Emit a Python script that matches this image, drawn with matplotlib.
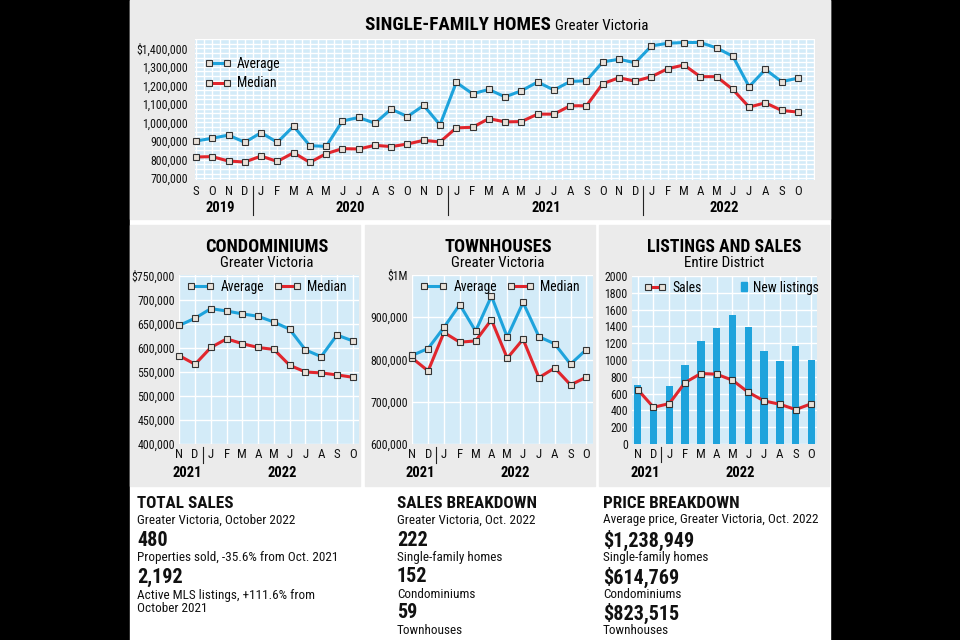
import numpy as np
import matplotlib
matplotlib.use("Agg")
import matplotlib.pyplot as plt
import matplotlib.font_manager as fm
from matplotlib.patches import Rectangle, Patch
from matplotlib.ticker import FuncFormatter
from matplotlib.lines import Line2D

# pick the narrowest sans that is installed
installed = {f.name for f in fm.fontManager.ttflist}
fontName = "DejaVu Sans"
for cand in ["Liberation Sans Narrow", "Roboto Condensed", "Open Sans Condensed", "Roboto", "Liberation Sans"]:
    if cand in installed:
        fontName = cand
        break
plt.rcParams['font.family'] = [fontName, 'DejaVu Sans']

# ---- data ----
sfMonths = list("SOND") + list("JFMAMJJASOND") * 2 + list("JFMAMJJASO")
sfAvg = [900000, 915000, 932000, 893000,
         945000, 893000, 980000, 875000, 871000, 1008000, 1027000, 996000, 1072000, 1032000, 1092000, 987000,
         1216000, 1155000, 1178000, 1138000, 1171000, 1218000, 1175000, 1221000, 1225000, 1326000, 1341000, 1322000,
         1413000, 1427000, 1431000, 1431000, 1402000, 1357000, 1193000, 1286000, 1220000, 1238949]
sfMed = [814000, 816000, 792000, 787000,
         819000, 790000, 837000, 785000, 832000, 859000, 857000, 877000, 870000, 884000, 904000, 895000,
         971000, 974000, 1021000, 1003000, 1005000, 1045000, 1045000, 1090000, 1090000, 1209000, 1241000, 1223000,
         1247000, 1290000, 1310000, 1247000, 1247000, 1178000, 1083000, 1106000, 1065000, 1056000]
sfYears = ["2019", "2020", "2021", "2022"]

subMonths = list("NDJFMAMJJASO")
subYears = ["2021", "2022"]
condoAvg = [647000, 662000, 682000, 677000, 671000, 666000, 654000, 639000, 596000, 582000, 627000, 614769]
condoMed = [584000, 566000, 601000, 619000, 609000, 601000, 597000, 564000, 550000, 548000, 544000, 539000]
townAvg = [810000, 826000, 876000, 930000, 867000, 950000, 853000, 935000, 854000, 837000, 789000, 823515]
townMed = [803000, 773000, 864000, 841000, 844000, 894000, 803000, 848000, 757000, 780000, 740000, 758000]
newListings = [700, 402, 696, 938, 1229, 1380, 1539, 1388, 1109, 990, 1161, 1002]
sales = [648, 437, 481, 732, 839, 831, 759, 616, 513, 473, 410, 480]

# ---- styles ----
BLUE = "#1ea3dc"
RED = "#e1262d"
PLOTBG = "#d3ebf8"
PANEL = "#ebebeb"
MFACE = "#e9e2da"
MEDGE = "#333333"
W, H = 960, 640
LEGFS = 9.8

fig = plt.figure(figsize=(9.6, 6.4), dpi=100, facecolor="black")


def fx(x):
    return x / W


def fy(y):
    return 1 - y / H


def box(x0, y0, x1, y1, color):
    fig.patches.append(Rectangle((fx(x0), fy(y1)), fx(x1 - x0), (y1 - y0) / H,
                                 transform=fig.transFigure, color=color, zorder=-10))


def make_axes(x0, y0, x1, y1):
    ax = fig.add_axes([fx(x0), fy(y1), fx(x1 - x0), (y1 - y0) / H])
    ax.set_facecolor(PLOTBG)
    for s in ax.spines.values():
        s.set_visible(False)
    ax.tick_params(length=0, labelsize=8.6, colors="#111111")
    ax.set_axisbelow(True)
    return ax


def line(ax, vals, color, z=3):
    ax.plot(range(len(vals)), vals, color=color, lw=2.2, marker="s", ms=4.2,
            mfc=MFACE, mec=MEDGE, mew=0.8, clip_on=False, zorder=z)


box(130, 0, 830, H, "white")
box(130, 0, 830, 219, PANEL)
box(130, 225, 360, 486, PANEL)
box(365, 225, 595, 486, PANEL)
box(599, 225, 829, 486, PANEL)

hAvg = Line2D([], [], color=BLUE, lw=2.2, marker="s", ms=4.2, mfc=MFACE, mec=MEDGE, mew=0.8)
hMed = Line2D([], [], color=RED, lw=2.2, marker="s", ms=4.2, mfc=MFACE, mec=MEDGE, mew=0.8)

# ---- single-family homes ----
axTop = make_axes(195, 39, 815, 180)
xs = np.arange(len(sfAvg))
line(axTop, sfAvg, BLUE, 4)
line(axTop, sfMed, RED, 3)
axTop.set_xlim(-0.06, 38.05)
axTop.set_ylim(690000, 1450000)
axTop.set_yticks(np.arange(700000, 1400001, 100000))
axTop.yaxis.set_major_formatter(FuncFormatter(lambda v, p: ("$" if v >= 1400000 else "") + f"{int(v):,}"))
axTop.set_yticks(np.arange(700000, 1450001, 25000), minor=True)
axTop.set_xticks(xs)
axTop.set_xticklabels(sfMonths, fontsize=9.3)
axTop.set_xticks(np.arange(0, 38.1, 0.5), minor=True)
axTop.tick_params(axis="y", pad=5)
axTop.tick_params(axis="x", pad=3.5)
axTop.tick_params(which="minor", length=0)
axTop.grid(True, which="both", color="white", lw=1)
blend = axTop.get_xaxis_transform()
for xc, yr in zip([1.5, 9.5, 21.5, 32.5], sfYears):
    axTop.text(xc, -0.2, yr, transform=blend, ha="center", va="center", fontsize=10.5, fontweight="bold")
for xd in [3.5, 15.5, 27.5]:
    axTop.plot([xd, xd], [-0.04, -0.25], transform=blend, color="#222222", lw=0.8, clip_on=False)
axTop.legend([hAvg, hMed], ["Average", "Median"], loc="upper left", bbox_to_anchor=(0.016, 0.873),
             borderaxespad=0, borderpad=0, frameon=False, numpoints=2, handlelength=1.9,
             fontsize=LEGFS, labelspacing=0.4, handletextpad=0.45)
fig.text(fx(551), fy(25), "SINGLE-FAMILY HOMES", ha="right", va="center", fontsize=13.8, fontweight="bold")
fig.text(fx(555), fy(26), "Greater Victoria", ha="left", va="center", fontsize=10.8)


def sub_axes(ax, n):
    ax.set_xticks(range(n))
    ax.set_xticklabels(subMonths, fontsize=9.3)
    ax.tick_params(axis="y", pad=3)
    ax.tick_params(axis="x", pad=3)
    ax.grid(True, color="white", lw=1)
    bl = ax.get_xaxis_transform()
    ax.text(0.5, -0.17, subYears[0], transform=bl, ha="center", va="center", fontsize=10.5, fontweight="bold")
    ax.text(6.5, -0.17, subYears[1], transform=bl, ha="center", va="center", fontsize=10.5, fontweight="bold")
    ax.plot([1.5, 1.5], [-0.02, -0.11], transform=bl, color="#222222", lw=0.8, clip_on=False)


def sub_legend(ax, handles, labels):
    ax.legend(handles, labels, loc="upper left", bbox_to_anchor=(0.044, 0.973), ncol=2, frameon=False,
              borderaxespad=0, borderpad=0, numpoints=2, handlelength=2.0, fontsize=LEGFS,
              columnspacing=0.75, handletextpad=0.45)


# ---- condominiums ----
axC = make_axes(179, 275, 359, 444)
line(axC, condoAvg, BLUE, 4)
line(axC, condoMed, RED, 3)
axC.set_xlim(-0.02, 11.4)
axC.set_ylim(400000, 752000)
axC.set_yticks(np.arange(400000, 750001, 50000))
axC.yaxis.set_major_formatter(FuncFormatter(lambda v, p: ("$" if v >= 750000 else "") + f"{int(v):,}"))
sub_axes(axC, 12)
sub_legend(axC, [hAvg, hMed], ["Average", "Median"])
fig.text(fx(267), fy(247), "CONDOMINIUMS", ha="center", va="center", fontsize=13.2, fontweight="bold")
fig.text(fx(267), fy(263), "Greater Victoria", ha="center", va="center", fontsize=10.8)

# ---- townhouses ----
axT = make_axes(412, 275, 593, 444)
line(axT, townAvg, BLUE, 4)
line(axT, townMed, RED, 3)
axT.set_xlim(-0.02, 11.42)
axT.set_ylim(600000, 1000000)
axT.set_yticks(np.arange(600000, 1000001, 100000))
axT.yaxis.set_major_formatter(FuncFormatter(lambda v, p: "$1M" if v >= 1000000 else f"{int(v):,}"))
sub_axes(axT, 12)
sub_legend(axT, [hAvg, hMed], ["Average", "Median"])
fig.text(fx(498), fy(247), "TOWNHOUSES", ha="center", va="center", fontsize=13.2, fontweight="bold")
fig.text(fx(498), fy(263), "Greater Victoria", ha="center", va="center", fontsize=10.8)

# ---- listings and sales ----
axL = make_axes(632, 276, 817, 444)
axL.bar(range(len(newListings)), newListings, width=0.46, color=BLUE, zorder=2)
axL.plot(range(len(sales)), sales, color=RED, lw=2.2, marker="s", ms=4.2,
         mfc=MFACE, mec=MEDGE, mew=0.8, zorder=3)
axL.set_xlim(-0.36, 11.35)
axL.set_ylim(0, 2000)
axL.set_yticks(np.arange(0, 2001, 200))
sub_axes(axL, 12)
hSales = Line2D([], [], color=RED, lw=2.2, marker="s", ms=4.2, mfc=MFACE, mec=MEDGE, mew=0.8)
legSales = axL.legend([hSales], ["Sales"], loc="upper left", bbox_to_anchor=(0.065, 0.973), frameon=False,
                      borderaxespad=0, borderpad=0, numpoints=2, handlelength=1.6, fontsize=LEGFS,
                      handletextpad=0.45)
axL.add_artist(legSales)
axL.legend([Patch(color=BLUE)], ["New listings"], loc="upper left", bbox_to_anchor=(0.589, 0.973),
           frameon=False, borderaxespad=0, borderpad=0, handlelength=0.45, handleheight=0.6,
           fontsize=LEGFS, handletextpad=0.4)
fig.text(fx(724), fy(247), "LISTINGS AND SALES", ha="center", va="center", fontsize=12.8, fontweight="bold")
fig.text(fx(724), fy(263), "Entire District", ha="center", va="center", fontsize=10.8)

# ---- bottom text ----
colText = [
    (137, [("TOTAL SALES", "h", 503), ("Greater Victoria, October 2022", "s", 520), ("480", "n", 540),
           ("Properties sold, -35.6% from Oct. 2021", "s", 558), ("2,192", "n", 577),
           ("Active MLS listings, +111.6% from", "s", 595), ("October 2021", "s", 609)]),
    (397, [("SALES BREAKDOWN", "h", 503), ("Greater Victoria, Oct. 2022", "s", 520), ("222", "n", 540),
           ("Single-family homes", "s", 557), ("152", "n", 577), ("Condominiums", "s", 594),
           ("59", "n", 613), ("Townhouses", "s", 631)]),
    (603, [("PRICE BREAKDOWN", "h", 503), ("Average price, Greater Victoria, Oct. 2022", "s", 520),
           ("$1,238,949", "n", 540), ("Single-family homes", "s", 557), ("$614,769", "n", 577),
           ("Condominiums", "s", 594), ("$823,515", "n", 613), ("Townhouses", "s", 631)]),
]
styles = {"h": dict(fontsize=12.3, fontweight="bold"), "s": dict(fontsize=9.5),
          "n": dict(fontsize=14.5, fontweight="bold")}
for xc, items in colText:
    for txt, kind, yc in items:
        fig.text(fx(xc), fy(yc), txt, ha="left", va="center", color="#111111", **styles[kind])

fig.savefig("out.png", dpi=100, facecolor="black")
